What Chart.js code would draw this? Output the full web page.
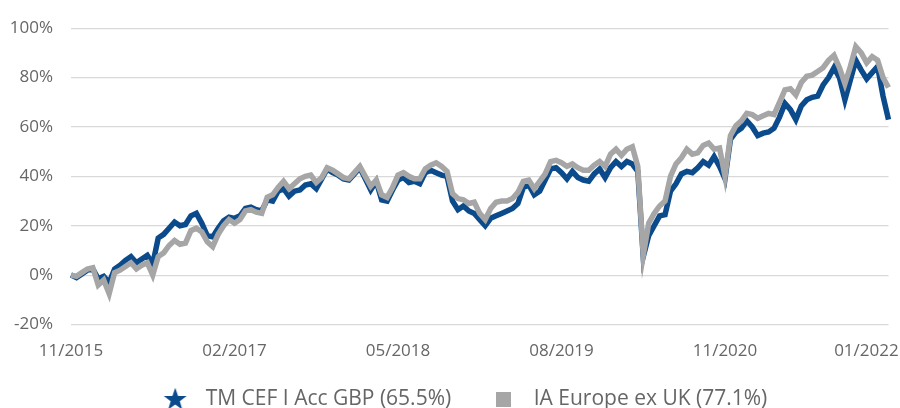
<!DOCTYPE html>
<html>
<head>
<meta charset="utf-8">
<script src="https://cdn.jsdelivr.net/npm/chart.js@4.4.1/dist/chart.umd.min.js"></script>
<style>
  html, body { margin: 0; padding: 0; background: #fff; }
  #wrap { width: 900px; height: 408px; }
</style>
</head>
<body>
<div id="wrap"><canvas id="perf"></canvas></div>
<script>
// half-monthly points, 11/2015 -> end of 01/2022 (cumulative % return)
var fundName = 'TM CEF I Acc GBP (65.5%)';
var sectorName = 'IA Europe ex UK (77.1%)';

var fundValues = [
  0, -1, 0.5, 2, 2.5, -1.5, -0.5, -3, 2.5, 4,
  6, 7.5, 5, 6.5, 8, 4.5, 15, 16.5, 19, 21.5,
  20, 20.5, 24, 25, 21, 16, 15.5, 19, 22, 23.5,
  23, 24, 27, 27.5, 26.5, 26, 30.5, 30, 34, 35,
  32, 34, 34.5, 36.5, 37, 35, 39, 43, 41.5, 40.5,
  39, 38.5, 41, 43.5, 39, 34.5, 38, 30.5, 30, 34.5,
  38.5, 39.5, 37.5, 38, 37, 41.5, 42.5, 41.5, 40.5, 40,
  30, 26.5, 28, 26, 25, 22.5, 20, 23, 24, 25,
  26, 27, 29, 35.5, 36.5, 32.5, 34, 38.5, 43, 43.5,
  41.5, 39, 42, 39.5, 38.5, 38, 41, 43, 39.5, 43.5,
  46, 44, 46, 45, 42, 7.5, 16, 20, 24, 24.5,
  34, 37, 41, 42, 41.5, 43.5, 46, 44.5, 48, 44,
  39, 55, 58, 59.5, 62.5, 60, 56.5, 57.5, 58, 59.5,
  64, 69.5, 67, 63, 68.5, 71, 72, 72.5, 77, 80,
  84, 80, 71, 79, 87, 83, 79.5, 82, 84.5, 72.5,
  63
];

var sectorValues = [
  0, -0.5, 1, 2.5, 3, -4, -2, -7.5, 1, 2,
  3.5, 5, 2.5, 4, 5, 0, 7.5, 9, 12, 14,
  12.5, 13, 18, 19, 17.5, 13.5, 11.5, 16.5, 20, 22.5,
  21, 22.5, 26, 26.5, 25.5, 25, 31.5, 32.5, 35.5, 38,
  35, 37, 39, 40, 40.5, 37.5, 39.5, 43.5, 42.5, 41,
  39.5, 39, 41.5, 44, 40, 36, 38.5, 32.5, 31.5, 35.5,
  40.5, 41.5, 40, 39, 39, 43, 44.5, 45.5, 44, 42,
  33, 31, 30.5, 29, 29.5, 25, 22.5, 27, 29.5, 30,
  30, 31, 33.5, 38, 38.5, 35, 38, 41, 46, 46.5,
  45.5, 44, 45, 43.5, 42.5, 42.5, 44.5, 46, 44, 49,
  51, 48.5, 51, 52, 44, 8, 21, 25, 28, 30,
  40, 45, 47.5, 51, 49, 49.5, 52.5, 53.5, 51, 51.5,
  40, 56.5, 60.5, 62.5, 65.5, 65, 63.5, 64.5, 65.5, 65,
  70, 75, 75.5, 73, 78, 80.5, 81, 82.5, 84, 87,
  89, 84, 77.5, 84.5, 92.5, 90, 86, 88.5, 87, 80,
  76
];

var yTicks = [-20, 0, 20, 40, 60, 80, 100];
var xTickIndex = [0, 30, 60, 90, 120, 150];
var xTickLabels = ['11/2015', '02/2017', '05/2018', '08/2019', '11/2020', '01/2022'];

var fundColor = '#0b4a8b';
var sectorColor = '#a6a6a6';
var textColor = '#666666';

// one category per data point
var labels = fundValues.map(function (v, i) { return String(i); });

function starIcon(color) {
  var c = document.createElement('canvas');
  c.width = 24; c.height = 24;
  var ctx = c.getContext('2d');
  ctx.fillStyle = color;
  ctx.beginPath();
  for (var k = 0; k < 10; k++) {
    var r = k % 2 === 0 ? 12 : 4.8;
    var a = -Math.PI / 2 + k * Math.PI / 5;
    var px = 12 + r * Math.cos(a), py = 12.8 + r * Math.sin(a);
    if (k === 0) ctx.moveTo(px, py); else ctx.lineTo(px, py);
  }
  ctx.closePath();
  ctx.fill();
  return c;
}

function squareIcon(color) {
  var c = document.createElement('canvas');
  c.width = 15; c.height = 15;
  var ctx = c.getContext('2d');
  ctx.fillStyle = color;
  ctx.fillRect(0, 0, 15, 15);
  return c;
}

var icons = [starIcon(fundColor), squareIcon(sectorColor)];

// legend sits a bit right of the canvas centre in the original
var legendShift = {
  id: 'legendShift',
  afterLayout: function (chart) {
    chart.legend.left += 12;
    chart.legend.right += 12;
  }
};

new Chart(document.getElementById('perf'), {
  type: 'line',
  data: {
    labels: labels,
    datasets: [
      {
        label: fundName,
        data: fundValues,
        borderColor: fundColor,
        backgroundColor: fundColor,
        borderWidth: 5.5,
        pointRadius: 0,
        tension: 0,
        order: 2
      },
      {
        label: sectorName,
        data: sectorValues,
        borderColor: sectorColor,
        backgroundColor: sectorColor,
        borderWidth: 5.5,
        pointRadius: 0,
        tension: 0,
        order: 1
      }
    ]
  },
  plugins: [legendShift],
  options: {
    responsive: true,
    maintainAspectRatio: false,
    animation: false,
    layout: { padding: { left: 10, right: 11.5, top: 22, bottom: 0 } },
    font: { family: '"Open Sans", sans-serif' },
    plugins: {
      tooltip: { enabled: false },
      legend: {
        position: 'bottom',
        maxHeight: 51.5,
        labels: {
          color: textColor,
          font: { family: '"Open Sans", sans-serif', size: 21 },
          usePointStyle: true,
          pointStyleWidth: 40,
          padding: 32,
          generateLabels: function (chart) {
            return chart.data.datasets.map(function (ds, i) {
              return {
                text: ds.label,
                pointStyle: icons[i],
                fillStyle: ds.borderColor,
                strokeStyle: ds.borderColor,
                lineWidth: 0,
                fontColor: textColor,
                hidden: false,
                datasetIndex: i
              };
            });
          }
        }
      }
    },
    scales: {
      x: {
        grid: { display: false, drawTicks: false },
        border: { display: false },
        ticks: {
          autoSkip: false,
          maxRotation: 0,
          minRotation: 0,
          padding: 16,
          color: textColor,
          font: { family: '"Open Sans", sans-serif', size: 17 },
          callback: function (val, idx) {
            var k = xTickIndex.indexOf(idx);
            if (k < 0) return '';
            // last label is pulled left so it stays inside the canvas
            if (k === xTickIndex.length - 1) return xTickLabels[k] + '\u00a0\u00a0\u00a0\u00a0\u00a0\u00a0\u00a0\u00a0\u00a0\u00a0';
            return xTickLabels[k];
          }
        },
        afterFit: function (scale) {
          scale.paddingLeft = 0;
          scale.paddingRight = 0;
          scale.height = 32;
        }
      },
      y: {
        min: yTicks[0],
        max: yTicks[yTicks.length - 1],
        afterBuildTicks: function (scale) {
          scale.ticks = yTicks.map(function (v) { return { value: v }; });
        },
        afterFit: function (scale) {
          scale.width = 61;
        },
        grid: { color: '#d9d9d9', lineWidth: 1.2, drawTicks: false },
        border: { display: false },
        ticks: {
          padding: 18,
          color: textColor,
          font: { family: '"Open Sans", sans-serif', size: 17 },
          callback: function (v) { return v + '%'; }
        }
      }
    }
  }
});
</script>
</body>
</html>
